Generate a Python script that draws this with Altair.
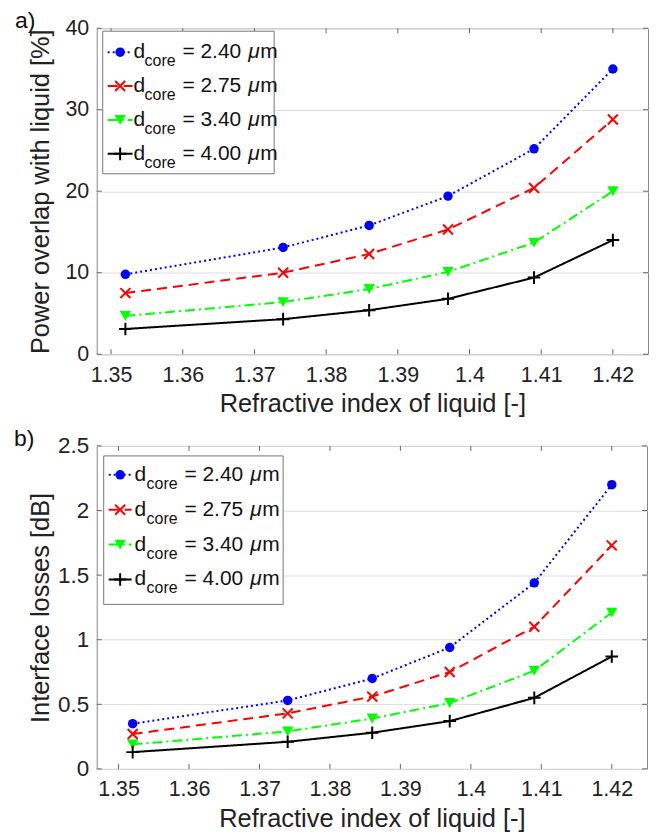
import altair as alt
import pandas as pd

# ---------------- data ----------------
n_liquid = [1.352, 1.374, 1.386, 1.397, 1.409, 1.42]
series_labels = ["2.40", "2.75", "3.40", "4.00"]

overlap_240 = [9.8, 13.1, 15.8, 19.4, 25.2, 35.0]
overlap_275 = [7.5, 10.0, 12.3, 15.3, 20.4, 28.8]
overlap_340 = [4.7, 6.4, 8.0, 10.1, 13.7, 20.0]
overlap_400 = [3.1, 4.3, 5.4, 6.8, 9.4, 14.0]

loss_240 = [0.35, 0.53, 0.70, 0.94, 1.44, 2.20]
loss_275 = [0.27, 0.43, 0.56, 0.75, 1.10, 1.73]
loss_340 = [0.19, 0.29, 0.39, 0.51, 0.76, 1.21]
loss_400 = [0.13, 0.21, 0.28, 0.37, 0.55, 0.87]

x_ticks = [1.35, 1.36, 1.37, 1.38, 1.39, 1.40, 1.41, 1.42]
overlap_ticks = [0, 10, 20, 30, 40]
loss_ticks = [0, 0.5, 1, 1.5, 2, 2.5]

# ---------------- styles ----------------
FONT = "Liberation Sans"
STYLES = {
    "2.40": dict(color="#0000ff", dash=[2, 3], shape="circle", filled=True, size=90),
    "2.75": dict(color="#ff0000", dash=[10, 6], shape="M-1,-1L1,1M-1,1L1,-1", filled=False, size=100),
    "3.40": dict(color="#00ff00", dash=[10, 4, 2, 4], shape="triangle-down", filled=True, size=130),
    "4.00": dict(color="#000000", dash=[1, 0], shape="M-1,0L1,0M0,-1L0,1", filled=False, size=160),
}
one = pd.DataFrame({"k": [0]})


def panel(values, y_ticks, y_title, tag, W, H, x_dom, leg, y_title_pad, y_label_size):
    xs = alt.Scale(domain=x_dom, nice=False, zero=False)
    ys = alt.Scale(domain=[y_ticks[0], y_ticks[-1]], nice=False)
    xaxis = alt.Axis(values=x_ticks, labelExpr="'' + datum.value",
                     title="Refractive index of liquid [-]",
                     grid=False, ticks=False, domain=False, labelPadding=10, titlePadding=6)
    yaxis = alt.Axis(values=y_ticks, labelExpr="'' + datum.value", title=y_title,
                     grid=True, ticks=False, domain=False, labelPadding=8,
                     labelFontSize=y_label_size, titlePadding=y_title_pad)
    layers = []
    # inward ticks (box style)
    xt = pd.DataFrame({"v": x_ticks})
    yt = pd.DataFrame({"v": y_ticks})
    for y0, y1 in [(0, 5), (H, H - 5)]:
        layers.append(alt.Chart(xt).mark_rule(color="#666", strokeWidth=1).encode(
            x=alt.X("v:Q", scale=xs, axis=xaxis), y=alt.value(y0), y2=alt.value(y1)))
    for x0, x1 in [(0, 5), (W, W - 5)]:
        layers.append(alt.Chart(yt).mark_rule(color="#666", strokeWidth=1).encode(
            y=alt.Y("v:Q", scale=ys, axis=yaxis), x=alt.value(x0), x2=alt.value(x1)))
    # series
    for lab, vals in zip(series_labels, values):
        st = STYLES[lab]
        df = pd.DataFrame({"v": n_liquid, "w": vals})
        enc = dict(x=alt.X("v:Q", scale=xs, axis=xaxis), y=alt.Y("w:Q", scale=ys, axis=yaxis))
        layers.append(alt.Chart(df).mark_line(color=st["color"], strokeDash=st["dash"],
                                              strokeWidth=2).encode(**enc))
        layers.append(alt.Chart(df).mark_point(shape=st["shape"], filled=st["filled"],
                                               size=st["size"], color=st["color"],
                                               strokeWidth=2, opacity=1).encode(**enc))
    # legend box
    bx0, bx1, by0, by1 = leg["box"]
    layers.append(alt.Chart(one).mark_rect(fill="white", stroke="#777", strokeWidth=1).encode(
        x=alt.value(bx0), x2=alt.value(bx1), y=alt.value(by0), y2=alt.value(by1)))
    for i, lab in enumerate(series_labels):
        st = STYLES[lab]
        ry = leg["y0"] + i * leg["dy"]
        layers.append(alt.Chart(one).mark_rule(color=st["color"], strokeDash=st["dash"],
                                               strokeWidth=2).encode(
            x=alt.value(leg["l0"]), x2=alt.value(leg["l1"]), y=alt.value(ry)))
        layers.append(alt.Chart(one).mark_point(shape=st["shape"], filled=st["filled"],
                                                size=st["size"], color=st["color"],
                                                strokeWidth=2, opacity=1).encode(
            x=alt.value((leg["l0"] + leg["l1"]) / 2), y=alt.value(ry)))
        txt = dict(font=FONT, align="left", baseline="alphabetic", color="#111")
        layers.append(alt.Chart(one).mark_text(text="d", fontSize=21, **txt).encode(
            x=alt.value(leg["d"]), y=alt.value(ry + 6)))
        layers.append(alt.Chart(one).mark_text(text="core", fontSize=16, **txt).encode(
            x=alt.value(leg["c"]), y=alt.value(ry + 14)))
        layers.append(alt.Chart(one).mark_text(text="= " + lab, fontSize=21, **txt).encode(
            x=alt.value(leg["e"]), y=alt.value(ry + 6)))
        layers.append(alt.Chart(one).mark_text(text="\u03bc", fontSize=21, fontStyle="italic",
                                               **txt).encode(
            x=alt.value(leg["e"] + 66), y=alt.value(ry + 6)))
        layers.append(alt.Chart(one).mark_text(text="m", fontSize=21, **txt).encode(
            x=alt.value(leg["e"] + 78), y=alt.value(ry + 6)))
    # panel tag
    layers.append(alt.Chart(one).mark_text(text=tag, font=FONT, fontSize=23, align="left",
                                           baseline="top", color="#111").encode(
        x=alt.value(leg["tag"]), y=alt.value(-18)))
    return alt.layer(*layers).properties(width=W, height=H)


top = panel([overlap_240, overlap_275, overlap_340, overlap_400], overlap_ticks,
            "Power overlap with liquid [%]", "a)", 553, 327, [1.348, 1.4249],
            dict(box=(6, 178, 3, 146), y0=24, dy=34, l0=11, l1=36, d=37, c=48, e=86, tag=-82),
            11, 21.5)
bottom = panel([loss_240, loss_275, loss_340, loss_400], loss_ticks,
               "Interface losses [dB]", "b)", 552, 324, [1.3469, 1.425],
               dict(box=(7, 187, 10, 159), y0=29, dy=35, l0=12, l1=35, d=38, c=50, e=88, tag=-83),
               4, 22.5)

chart = alt.vconcat(top, bottom, spacing=9).properties(
    padding={"left": 5, "top": 0, "right": 2, "bottom": 0}
).configure_view(stroke="#888", strokeWidth=1).configure_axis(
    labelFont=FONT, titleFont=FONT, labelFontSize=21.5, titleFontSize=25.5,
    labelColor="#222", titleColor="#222", titleFontWeight="normal",
    gridColor="#dedede", gridWidth=1
)

chart.save("out.html", embed_options={"renderer": "svg", "actions": False})
